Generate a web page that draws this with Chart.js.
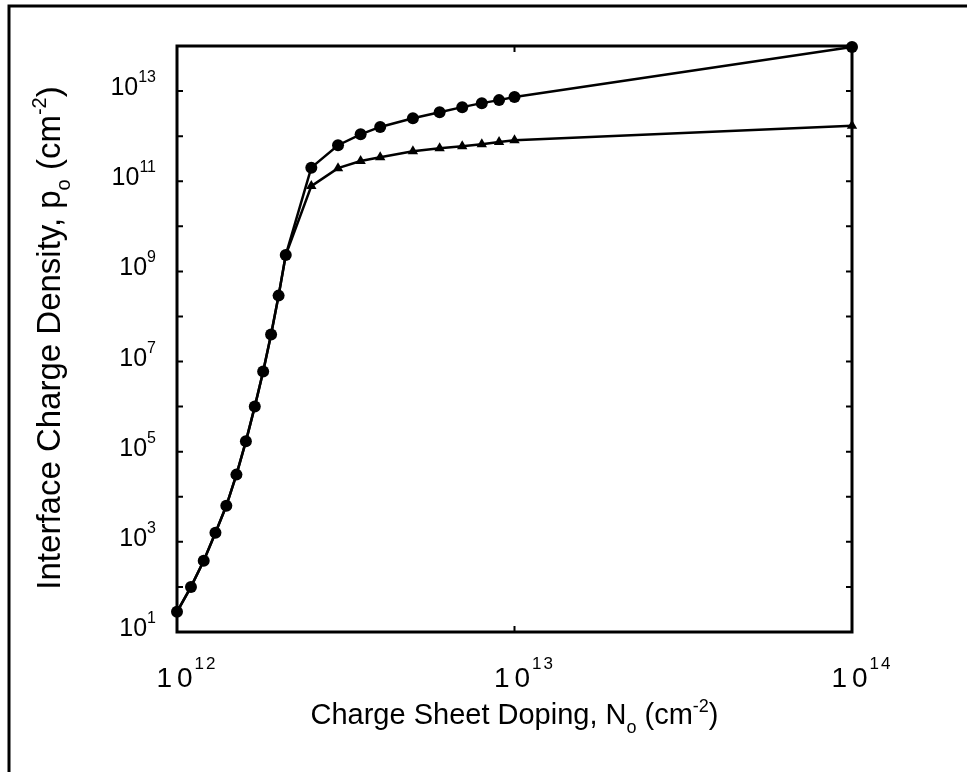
<!DOCTYPE html>
<html>
<head>
<meta charset="utf-8">
<script src="https://cdn.jsdelivr.net/npm/chart.js@4/dist/chart.umd.min.js"></script>
<style>
  html, body { margin: 0; padding: 0; background: #fff; }
  #wrap { width: 967px; height: 772px; }
</style>
</head>
<body>
<div id="wrap"><canvas id="chart" width="967" height="772"></canvas></div>
<script>
// charge sheet doping N_o (cm^-2), shared by both curves
const doping = [1.0e12, 1.1e12, 1.2e12, 1.3e12, 1.4e12, 1.5e12, 1.6e12, 1.7e12, 1.8e12, 1.9e12, 2.0e12, 2.1e12,
                2.5e12, 3e12, 3.5e12, 4e12, 5e12, 6e12, 7e12, 8e12, 9e12, 1e13, 1e14];
// interface charge density p_o (cm^-2), circle markers
const densityCircle = [28, 100, 380, 1.6e3, 6.3e3, 3.1e4, 1.7e5, 1.0e6, 6.0e6, 4.0e7, 2.9e8, 2.3e9,
                       2.0e11, 6.3e11, 1.1e12, 1.6e12, 2.5e12, 3.4e12, 4.4e12, 5.4e12, 6.3e12, 7.4e12, 9.5e13];
// interface charge density p_o (cm^-2), triangle markers
const densityTriangle = [28, 100, 380, 1.6e3, 6.3e3, 3.1e4, 1.7e5, 1.0e6, 6.0e6, 4.0e7, 2.9e8, 2.3e9,
                         7.8e10, 1.95e11, 2.8e11, 3.4e11, 4.6e11, 5.4e11, 6.0e11, 6.6e11, 7.4e11, 8.1e11, 1.7e12];

const xTickExp = [12, 13, 14];
const yTickExp = [1, 3, 5, 7, 9, 11, 13];
const xTitle = [["Charge Sheet Doping, N", ""], ["o", "sub"], [" (cm", ""], ["-2", "sup"], [")", ""]];
const yTitle = [["Interface Charge Density, p", ""], ["o", "sub"], [" (cm", ""], ["-2", "sup"], [")", ""]];

const FONT = '"Liberation Sans", Arial, Helvetica, sans-serif';

// draws text with sub/superscript pieces
function drawRich(ctx, parts, x, y, size, align) {
  const spec = parts.map(([t, k]) => {
    const s = k ? Math.round(size * 0.62) : size;
    ctx.font = s + "px " + FONT;
    return { t, k, s, w: ctx.measureText(t).width };
  });
  const total = spec.reduce((a, p) => a + p.w, 0);
  let cx = align === "center" ? x - total / 2 : align === "right" ? x - total : x;
  ctx.textAlign = "left";
  ctx.textBaseline = "alphabetic";
  for (const p of spec) {
    ctx.font = p.s + "px " + FONT;
    const dy = p.k === "sup" ? -size * 0.42 : p.k === "sub" ? size * 0.3 : 0;
    ctx.fillText(p.t, cx, y + dy);
    cx += p.w;
  }
}

const framePlugin = {
  id: "frame",
  beforeDatasetsDraw(chart) {
    const { ctx, chartArea: a, scales } = chart;
    ctx.save();
    ctx.strokeStyle = "#000";
    ctx.lineWidth = 3;
    // outer figure border (left and top edges)
    ctx.beginPath();
    ctx.moveTo(9, 772); ctx.lineTo(9, 6); ctx.lineTo(967, 6);
    ctx.stroke();
    // plot box
    ctx.strokeRect(a.left, a.top, a.right - a.left, a.bottom - a.top);
    // inward ticks, one per decade on y
    ctx.lineWidth = 2;
    ctx.beginPath();
    for (let k = 2; k <= 13; k++) {
      const y = scales.y.getPixelForValue(Math.pow(10, k));
      ctx.moveTo(a.left, y); ctx.lineTo(a.left + 6, y);
      ctx.moveTo(a.right, y); ctx.lineTo(a.right - 6, y);
    }
    const xm = scales.x.getPixelForValue(1e13);
    ctx.moveTo(xm, a.top); ctx.lineTo(xm, a.top + 6);
    ctx.moveTo(xm, a.bottom); ctx.lineTo(xm, a.bottom - 6);
    ctx.stroke();
    ctx.restore();
  },
  afterDraw(chart) {
    const { ctx, chartArea: a, scales } = chart;
    ctx.save();
    ctx.fillStyle = "#000";
    // y tick labels
    yTickExp.forEach(e => {
      const y = scales.y.getPixelForValue(Math.pow(10, e));
      ctx.font = "16px " + FONT;
      const ew = ctx.measureText(String(e)).width;
      ctx.font = "25px " + FONT;
      ctx.textAlign = "right";
      ctx.textBaseline = "alphabetic";
      ctx.fillText("10", 156 - ew, y + 4);
      ctx.font = "16px " + FONT;
      ctx.textAlign = "left";
      ctx.fillText(String(e), 156 - ew, y - 9);
    });
    // x tick labels, wide spaced digits
    xTickExp.forEach(e => {
      const x = scales.x.getPixelForValue(Math.pow(10, e));
      ctx.letterSpacing = "5px";
      ctx.font = "28px " + FONT;
      const w = ctx.measureText("10").width;
      ctx.textAlign = "left";
      ctx.textBaseline = "alphabetic";
      ctx.fillText("10", x - w / 2, 687);
      ctx.letterSpacing = "2px";
      ctx.font = "17px " + FONT;
      ctx.fillText(String(e), x + w / 2 - 3, 669);
    });
    ctx.letterSpacing = "0px";
    // axis titles
    drawRich(ctx, xTitle, (a.left + a.right) / 2, 724, 29, "center");
    ctx.translate(60, 338);
    ctx.rotate(-Math.PI / 2);
    drawRich(ctx, yTitle, 0, 0, 33, "center");
    ctx.restore();
  }
};

const circlePoints = doping.map((x, i) => ({ x, y: densityCircle[i] }));
const trianglePoints = doping.map((x, i) => ({ x, y: densityTriangle[i] }));

new Chart(document.getElementById("chart").getContext("2d"), {
  type: "scatter",
  data: {
    datasets: [
      {
        label: "circle",
        data: circlePoints,
        showLine: true,
        borderColor: "#000",
        backgroundColor: "#000",
        borderWidth: 2.5,
        pointStyle: "circle",
        pointRadius: 6,
        pointBorderWidth: 0,
        clip: false
      },
      {
        label: "triangle",
        data: trianglePoints,
        showLine: true,
        borderColor: "#000",
        backgroundColor: "#000",
        borderWidth: 2.5,
        pointStyle: "triangle",
        pointRadius: 6,
        pointBorderWidth: 0,
        clip: false
      }
    ]
  },
  options: {
    responsive: false,
    animation: false,
    events: [],
    layout: { padding: { left: 177, top: 46, right: 115, bottom: 140 } },
    plugins: { legend: { display: false }, tooltip: { enabled: false } },
    scales: {
      x: { type: "logarithmic", min: 1e12, max: 1e14, display: false },
      y: { type: "logarithmic", min: 10, max: 1e14, display: false }
    }
  },
  plugins: [framePlugin]
});
</script>
</body>
</html>
